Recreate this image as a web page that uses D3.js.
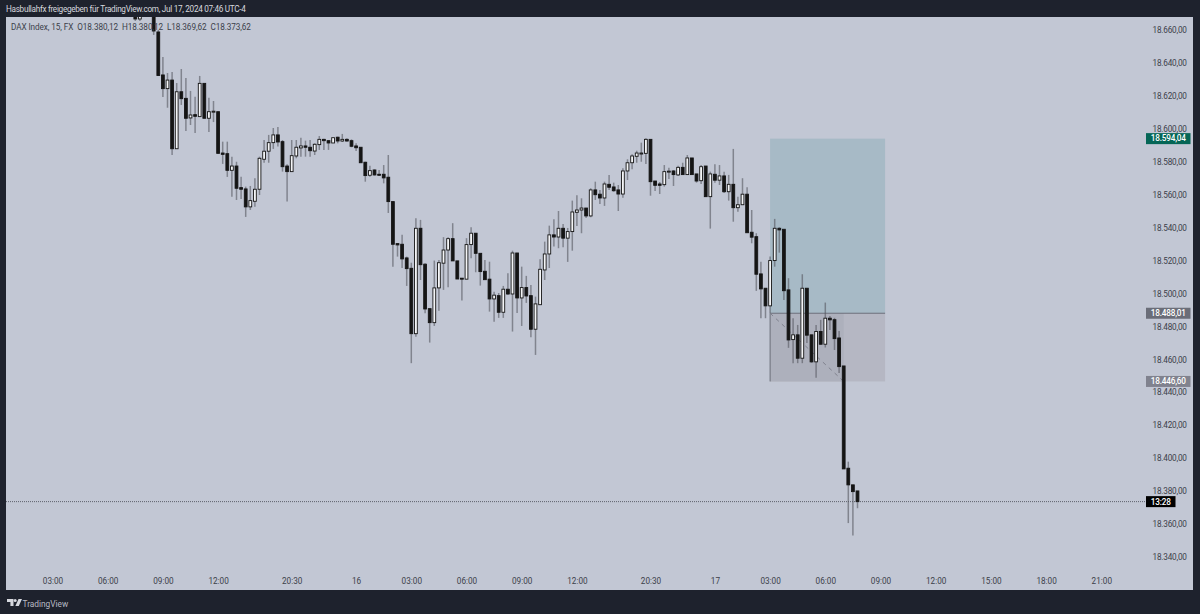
<!DOCTYPE html>
<html>
<head>
<meta charset="utf-8">
<title>DAX Index, 15</title>
<script src="https://cdn.jsdelivr.net/npm/d3@7"></script>
<style>
  html, body { margin: 0; padding: 0; background: #1e222d; }
  svg { display: block; }
  text { font-family: Roboto, "Liberation Sans", sans-serif; }
  .domain { display: none; }
</style>
</head>
<body>
<div id="chart"></div>
<script>
// bar 0 is the first 03:00 tick, the candles start further right
var firstBar = 18;

var opens = [
  18669.1, 18666.7, 18671.5, 18674.0, 18672.1, 18658.8, 18632.7, 18624.4, 18629.6, 18587.9,
  18622.5, 18618.5, 18606.6, 18608.6, 18607.4, 18627.6, 18606.4, 18610.4, 18610.4, 18585.3,
  18584.9, 18574.8, 18577.4, 18564.3, 18563.5, 18552.6, 18556.0, 18563.3, 18581.5, 18586.4,
  18591.6, 18596.3, 18592.2, 18577.4, 18574.0, 18583.5, 18588.4, 18589.6, 18588.8, 18586.5,
  18590.4, 18593.6, 18592.8, 18591.4, 18594.9, 18592.6, 18593.6, 18592.8, 18589.6, 18588.8,
  18579.7, 18571.8, 18575.0, 18572.4, 18572.4, 18570.6, 18555.8, 18530.3, 18529.9, 18521.6,
  18515.3, 18475.6, 18539.6, 18517.8, 18490.8, 18482.3, 18503.4, 18518.4, 18526.4, 18533.3,
  18519.8, 18509.3, 18508.7, 18529.7, 18536.6, 18524.4, 18513.5, 18508.7, 18496.7, 18498.7,
  18488.6, 18502.6, 18499.7, 18524.6, 18497.3, 18503.6, 18498.7, 18478.3, 18493.2, 18514.3,
  18524.0, 18535.6, 18534.3, 18539.6, 18533.6, 18537.6, 18549.3, 18550.7, 18551.9, 18547.1,
  18562.9, 18560.3, 18558.0, 18566.3, 18564.7, 18562.9, 18560.4, 18574.4, 18579.4, 18583.3,
  18585.0, 18585.1, 18593.6, 18568.3, 18566.5, 18566.1, 18574.0, 18574.4, 18572.0, 18576.6,
  18572.2, 18582.3, 18572.6, 18568.5, 18577.4, 18558.8, 18572.4, 18568.8, 18571.4, 18561.8,
  18566.3, 18552.1, 18553.9, 18560.3, 18537.2, 18534.5, 18511.9, 18503.2, 18492.5, 18520.0,
  18539.6, 18539.0, 18502.2, 18472.0, 18474.9, 18460.7, 18503.2, 18474.9, 18458.5, 18476.9,
  18469.2, 18485.0, 18484.1, 18473.0, 18456.0, 18393.9, 18383.8, 18380.12
];

var highs = [
  18669.7, 18669.1, 18673.0, 18676.0, 18675.0, 18660.0, 18643.6, 18633.9, 18634.5, 18627.8,
  18636.3, 18630.9, 18623.0, 18619.5, 18632.1, 18627.6, 18618.9, 18616.9, 18610.4, 18592.2,
  18592.2, 18583.1, 18580.0, 18570.9, 18564.9, 18565.3, 18570.0, 18583.1, 18593.2, 18596.3,
  18600.5, 18601.1, 18593.2, 18578.5, 18593.2, 18593.2, 18594.6, 18592.8, 18593.2, 18591.2,
  18595.6, 18594.0, 18593.2, 18594.6, 18595.2, 18596.9, 18594.3, 18593.6, 18591.2, 18588.8,
  18580.0, 18577.6, 18575.4, 18575.0, 18578.0, 18584.1, 18555.8, 18530.3, 18535.6, 18522.4,
  18518.7, 18545.7, 18544.7, 18518.4, 18490.8, 18520.0, 18520.4, 18534.2, 18534.2, 18542.7,
  18519.8, 18509.3, 18533.6, 18540.2, 18536.6, 18524.4, 18520.4, 18519.3, 18501.1, 18500.3,
  18504.6, 18512.3, 18526.0, 18524.6, 18516.3, 18510.7, 18505.2, 18498.1, 18520.8, 18531.5,
  18541.2, 18545.1, 18550.1, 18542.2, 18539.8, 18556.4, 18559.7, 18557.8, 18551.9, 18563.9,
  18567.9, 18562.9, 18567.9, 18572.0, 18567.3, 18565.9, 18576.0, 18581.5, 18584.5, 18586.7,
  18591.6, 18594.3, 18593.6, 18568.3, 18567.7, 18578.0, 18576.4, 18575.0, 18577.6, 18579.4,
  18584.1, 18582.3, 18572.6, 18578.0, 18577.4, 18574.0, 18578.5, 18578.0, 18574.0, 18572.0,
  18587.8, 18558.8, 18570.0, 18564.5, 18550.7, 18536.6, 18519.3, 18503.2, 18522.4, 18545.3,
  18540.2, 18539.0, 18509.3, 18485.0, 18480.9, 18511.7, 18503.2, 18474.9, 18480.9, 18484.0,
  18494.5, 18486.4, 18485.2, 18477.3, 18456.0, 18397.9, 18383.8, 18380.12
];

var lows = [
  18665.5, 18665.5, 18668.0, 18670.0, 18657.0, 18632.1, 18619.3, 18612.8, 18584.1, 18587.8,
  18614.5, 18598.7, 18602.3, 18597.5, 18607.4, 18606.4, 18598.1, 18604.1, 18585.1, 18578.7,
  18570.8, 18558.8, 18556.8, 18557.4, 18546.5, 18550.7, 18552.7, 18559.8, 18579.4, 18579.4,
  18587.8, 18589.2, 18574.0, 18555.8, 18574.0, 18582.1, 18583.1, 18583.1, 18583.1, 18584.1,
  18587.2, 18587.2, 18587.2, 18591.4, 18591.2, 18592.0, 18592.2, 18588.8, 18586.5, 18579.4,
  18567.9, 18570.9, 18571.6, 18571.4, 18566.9, 18548.9, 18516.3, 18522.4, 18515.5, 18504.6,
  18457.7, 18473.8, 18508.2, 18488.0, 18470.2, 18480.3, 18489.6, 18502.2, 18503.8, 18519.8,
  18508.8, 18495.7, 18508.7, 18521.4, 18512.9, 18504.8, 18508.4, 18489.0, 18482.9, 18485.2,
  18485.2, 18499.1, 18476.9, 18488.2, 18480.3, 18494.3, 18473.5, 18462.7, 18493.2, 18508.2,
  18515.5, 18528.5, 18527.5, 18528.1, 18519.2, 18526.0, 18541.0, 18536.6, 18545.9, 18546.3,
  18556.8, 18554.4, 18553.2, 18562.9, 18561.8, 18550.1, 18558.2, 18568.9, 18575.4, 18579.4,
  18580.0, 18578.7, 18559.4, 18562.3, 18560.4, 18564.9, 18569.5, 18565.3, 18571.4, 18572.0,
  18572.0, 18572.2, 18567.3, 18566.5, 18558.8, 18539.4, 18567.3, 18565.9, 18561.0, 18556.4,
  18543.6, 18549.7, 18553.8, 18536.9, 18530.5, 18501.6, 18485.0, 18485.0, 18488.0, 18516.3,
  18524.8, 18496.1, 18467.0, 18457.7, 18457.7, 18457.7, 18470.0, 18457.9, 18448.9, 18468.8,
  18467.2, 18477.9, 18465.7, 18451.8, 18393.5, 18360.6, 18353.0, 18369.62
];

var closes = [
  18666.7, 18668.5, 18669.5, 18672.0, 18659.4, 18632.4, 18624.4, 18629.6, 18587.9, 18622.5,
  18618.3, 18606.4, 18608.4, 18607.6, 18627.6, 18606.4, 18610.4, 18610.7, 18585.1, 18584.5,
  18574.8, 18577.4, 18563.9, 18563.3, 18552.6, 18556.4, 18563.3, 18582.1, 18586.4, 18591.6,
  18596.3, 18592.0, 18577.0, 18574.0, 18583.7, 18588.8, 18589.6, 18588.8, 18586.7, 18590.6,
  18593.6, 18592.8, 18591.4, 18594.6, 18592.6, 18593.6, 18592.6, 18589.4, 18588.5, 18579.4,
  18571.6, 18574.6, 18572.0, 18571.8, 18570.2, 18555.8, 18529.9, 18529.5, 18521.0, 18515.1,
  18475.6, 18539.6, 18517.5, 18490.6, 18482.3, 18503.4, 18518.7, 18526.4, 18533.3, 18519.8,
  18508.8, 18508.7, 18529.7, 18536.6, 18524.4, 18513.3, 18508.4, 18496.7, 18499.0, 18488.6,
  18502.6, 18499.7, 18524.6, 18497.3, 18503.6, 18498.5, 18478.3, 18493.7, 18514.7, 18524.0,
  18535.6, 18534.3, 18539.6, 18533.6, 18537.6, 18549.5, 18550.7, 18551.9, 18547.1, 18562.9,
  18560.0, 18558.0, 18566.5, 18564.5, 18562.4, 18560.4, 18574.4, 18579.4, 18583.5, 18585.3,
  18585.3, 18593.6, 18567.9, 18565.7, 18565.7, 18574.0, 18574.3, 18572.2, 18576.6, 18572.2,
  18582.3, 18572.2, 18568.3, 18577.0, 18558.8, 18572.6, 18568.8, 18571.4, 18561.8, 18566.3,
  18552.1, 18553.9, 18560.3, 18536.9, 18534.2, 18511.7, 18502.8, 18492.5, 18520.0, 18539.6,
  18538.6, 18501.7, 18471.8, 18474.9, 18460.7, 18503.2, 18474.7, 18458.5, 18476.9, 18469.2,
  18485.0, 18484.0, 18472.6, 18455.6, 18393.5, 18383.8, 18379.7, 18373.62
];

var priceTicks = d3.range(18340, 18661, 20);
var timeBars = [0, 12, 24, 36, 52, 66, 78, 90, 102, 114, 130, 144, 156, 168, 180, 192, 204, 216, 228];
var timeLabels = ["03:00", "06:00", "09:00", "12:00", "20:30", "16", "03:00", "06:00", "09:00", "12:00",
                  "20:30", "17", "03:00", "06:00", "09:00", "12:00", "15:00", "18:00", "21:00"];

var targetPrice = 18594.04;
var entryPrice = 18488.01;
var stopPrice = 18446.60;
var lastPrice = 18373.62;
var toolStartBar = 156;
var toolFillBar = 172;
var toolEndBar = 181;

var title = "Hasbullahfx freigegeben für TradingView.com, Jul 17, 2024 07:46 UTC-4";
var legend = "DAX Index, 15, FX  O18.380,12  H18.380,12  L18.369,62  C18.373,62";

var width = 1200, height = 614;
var plot = {left: 6, right: 1193, top: 17, bottom: 590};
var labelSize = 8.2;
var labelSpacing = -0.2;

var x = d3.scaleLinear().domain([0, 228]).range([52.5, 1101.3]);
var y = d3.scaleLinear().domain([18340, 18660]).range([557, 30]);

var priceFormat = d3.formatLocale({decimal: ",", thousands: ".", grouping: [3], currency: ["", ""]}).format(",.2f");

var bars = d3.range(opens.length).map(function(i) {
  return {bar: firstBar + i, o: opens[i], h: highs[i], l: lows[i], c: closes[i]};
});

var svg = d3.select("#chart").append("svg")
  .attr("width", width)
  .attr("height", height);

svg.append("rect")
  .attr("width", width)
  .attr("height", height)
  .attr("fill", "#1e222d");

svg.append("rect")
  .attr("x", plot.left)
  .attr("y", plot.top)
  .attr("width", plot.right - plot.left)
  .attr("height", plot.bottom - plot.top)
  .attr("fill", "#c2c7d4");

svg.append("clipPath").attr("id", "plot-clip")
  .append("rect")
  .attr("x", plot.left)
  .attr("y", plot.top)
  .attr("width", plot.right - plot.left)
  .attr("height", plot.bottom - plot.top);

var chart = svg.append("g").attr("clip-path", "url(#plot-clip)");

// long position tool
chart.append("rect")
  .attr("x", x(toolStartBar))
  .attr("y", y(targetPrice))
  .attr("width", x(toolEndBar) - x(toolStartBar))
  .attr("height", y(entryPrice) - y(targetPrice))
  .attr("fill", "#a7bac6");

chart.append("rect")
  .attr("x", x(toolStartBar))
  .attr("y", y(entryPrice))
  .attr("width", x(toolEndBar) - x(toolStartBar))
  .attr("height", y(stopPrice) - y(entryPrice))
  .attr("fill", "#b5b7c3");

chart.append("rect")
  .attr("x", x(toolStartBar))
  .attr("y", y(entryPrice))
  .attr("width", x(toolFillBar) - x(toolStartBar))
  .attr("height", y(stopPrice) - y(entryPrice))
  .attr("fill", "#adb0bc");

chart.append("line")
  .attr("x1", x(toolStartBar))
  .attr("x2", x(toolEndBar))
  .attr("y1", y(entryPrice))
  .attr("y2", y(entryPrice))
  .attr("stroke", "#6c6f7a");

chart.append("line")
  .attr("x1", x(toolStartBar))
  .attr("x2", x(toolStartBar))
  .attr("y1", y(entryPrice))
  .attr("y2", y(stopPrice))
  .attr("stroke", "#6c6f7a");

chart.append("line")
  .attr("x1", x(toolStartBar))
  .attr("x2", x(toolFillBar))
  .attr("y1", y(entryPrice))
  .attr("y2", y(stopPrice))
  .attr("stroke", "#80828e")
  .attr("stroke-dasharray", "4,4");

// current price line
chart.append("line")
  .attr("x1", plot.left)
  .attr("x2", 1146)
  .attr("y1", y(lastPrice))
  .attr("y2", y(lastPrice))
  .attr("stroke", "#5d606b")
  .attr("stroke-dasharray", "1,1");

// candles
chart.selectAll(".wick").data(bars).enter().append("line")
  .attr("class", "wick")
  .attr("x1", function(d) { return x(d.bar); })
  .attr("x2", function(d) { return x(d.bar); })
  .attr("y1", function(d) { return y(d.h); })
  .attr("y2", function(d) { return y(d.l); })
  .attr("stroke", "#55575f")
  .attr("stroke-opacity", 0.6)
  .attr("stroke-width", 1.5);

chart.selectAll(".body").data(bars).enter().append("rect")
  .attr("class", "body")
  .attr("x", function(d) { return x(d.bar) - 1.4; })
  .attr("y", function(d) { return y(Math.max(d.o, d.c)); })
  .attr("width", 2.8)
  .attr("height", function(d) { return Math.max(1, Math.abs(y(d.o) - y(d.c))); })
  .attr("fill", function(d) { return d.c >= d.o ? "#f4f5f7" : "#151515"; })
  .attr("stroke", "#151515")
  .attr("stroke-width", 0.9);

// axes
var priceAxis = d3.axisRight(y)
  .tickValues(priceTicks)
  .tickSize(0)
  .tickPadding(0)
  .tickFormat(priceFormat);

svg.append("g")
  .attr("class", "price-axis")
  .attr("transform", "translate(1152.5,0)")
  .call(priceAxis)
  .selectAll("text")
  .attr("fill", "#3c3f4a")
  .attr("font-size", labelSize)
  .attr("letter-spacing", labelSpacing)
  .style("font-family", "Roboto, sans-serif");

var timeAxis = d3.axisBottom(x)
  .tickValues(timeBars)
  .tickSize(0)
  .tickPadding(0)
  .tickFormat(function(d) { return timeLabels[timeBars.indexOf(d)]; });

svg.append("g")
  .attr("class", "time-axis")
  .attr("transform", "translate(0,578.5)")
  .call(timeAxis)
  .selectAll("text")
  .attr("fill", "#3c3f4a")
  .attr("font-size", labelSize)
  .style("font-family", "Roboto, sans-serif");

// price tags on the axis
function addTag(yPos, w, label, fill) {
  svg.append("rect")
    .attr("x", 1146)
    .attr("y", yPos - 5.5)
    .attr("width", w)
    .attr("height", 11)
    .attr("fill", fill);
  svg.append("text")
    .attr("x", 1146 + w / 2)
    .attr("y", yPos)
    .attr("dy", "0.35em")
    .attr("text-anchor", "middle")
    .attr("fill", "#ffffff")
    .attr("font-size", labelSize)
    .attr("font-weight", 500)
    .attr("letter-spacing", labelSpacing)
    .text(label);
}

addTag(y(targetPrice), 44.5, priceFormat(targetPrice), "#056656");
addTag(y(entryPrice), 44.5, priceFormat(entryPrice), "#6a6d78");
addTag(y(stopPrice), 44.5, priceFormat(stopPrice), "#80828e");
addTag(y(lastPrice), 29.5, "13:28", "#000000");

// title and legend
svg.append("text")
  .attr("x", 6)
  .attr("y", 12)
  .attr("fill", "#d6d8de")
  .attr("font-size", labelSize)
  .attr("letter-spacing", -0.3)
  .text(title);

svg.append("text")
  .attr("x", 11)
  .attr("y", 30)
  .attr("fill", "#3c3f4a")
  .attr("font-size", labelSize)
  .attr("letter-spacing", -0.08)
  .style("white-space", "pre")
  .text(legend);

// footer logo
var logo = svg.append("g")
  .attr("transform", "translate(7,599)")
  .attr("fill", "#d6d8de");
logo.append("path").attr("d", "M0 0H6.5V7H3.4V3H0Z");
logo.append("circle").attr("cx", 8.2).attr("cy", 1.5).attr("r", 1.5);
logo.append("path").attr("d", "M11.5 0H15L11.8 7H8.4Z");

svg.append("text")
  .attr("x", 22.5)
  .attr("y", 606.5)
  .attr("fill", "#b8bbc4")
  .attr("font-size", 8.3)
  .text("TradingView");
</script>
</body>
</html>
